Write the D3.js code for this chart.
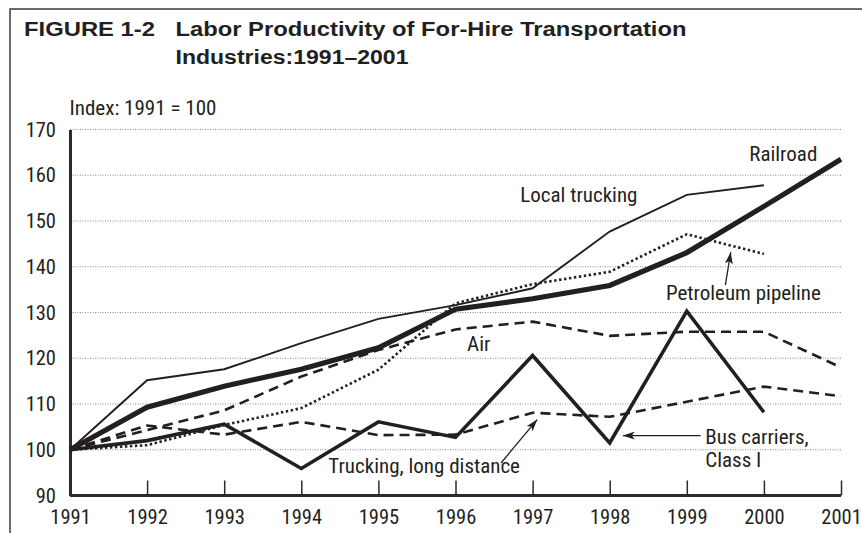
<!DOCTYPE html>
<html lang="en">
<head>
<meta charset="UTF-8">
<title>Labor Productivity of For-Hire Transportation Industries</title>
<script src="https://d3js.org/d3.v7.min.js"></script>
<style>
  body { margin: 0; background: #fff; }
  svg { display: block; }
  .cond { font-family: "Roboto Condensed", "Roboto", sans-serif; fill: #231f20; }
  .title { font-family: "Liberation Sans", Arial, sans-serif; font-weight: bold; fill: #231f20; }
</style>
</head>
<body>
<div id="chart"></div>
<script>
// years and index values (1991 = 100)
var years = [1991, 1992, 1993, 1994, 1995, 1996, 1997, 1998, 1999, 2000, 2001];
var railroad      = [100, 109.3, 113.9, 117.6, 122.3, 130.7, 133.0, 135.9, 143.1, 153.2, 163.5];
var localTrucking = [100, 115.2, 117.6, 123.3, 128.6, 131.6, 135.3, 147.7, 155.7, 157.8];
var pipeline      = [100, 101.0, 105.4, 109.1, 117.5, 132.0, 136.2, 138.9, 147.1, 142.8];
var air           = [100, 104.3, 108.6, 116.0, 121.8, 126.3, 128.0, 124.9, 125.8, 125.8, 118.0];
var truckingLong  = [100, 105.3, 103.3, 106.1, 103.2, 103.3, 108.1, 107.2, 110.5, 113.8, 111.7];
var busCarriers   = [100, 102.0, 105.6, 95.9, 106.1, 102.7, 120.6, 101.5, 130.3, 108.2];
var yTicks = [90, 100, 110, 120, 130, 140, 150, 160, 170];

var W = 862, H = 533;
var ink = "#231f20";

var svg = d3.select("#chart").append("svg").attr("width", W).attr("height", H);

var x = d3.scaleLinear().domain([1991, 2001]).range([70, 841]);
var y = d3.scaleLinear().domain([90, 170]).range([495.5, 129.5]);

// frame (top and left edges only)
svg.append("path")
    .attr("d", "M10," + H + " L10,9 L" + W + ",9")
    .attr("fill", "none").attr("stroke", "#3a3a3a").attr("stroke-width", 1.5);

// title - the printed face is wider than Arial, so stretch to the printed widths
var titleLines = [
    { text: "FIGURE 1-2", x: 24, y: 36, len: 131 },
    { text: "Labor Productivity of For-Hire Transportation", x: 175.5, y: 36, len: 511 },
    { text: "Industries:1991\u20132001", x: 175.5, y: 63.5, len: 233 }
];
svg.append("g").selectAll("text")
    .data(titleLines)
    .join("text")
    .attr("class", "title")
    .attr("x", function(d) { return d.x; })
    .attr("y", function(d) { return d.y; })
    .attr("textLength", function(d) { return d.len; })
    .attr("lengthAdjust", "spacingAndGlyphs")
    .style("font-size", "19.5px")
    .text(function(d) { return d.text; });

svg.append("text").attr("class", "cond").attr("x", 69.5).attr("y", 115)
    .style("font-size", "21px").text("Index: 1991 = 100");

// dotted gridlines
svg.append("g").selectAll("line")
    .data(yTicks.filter(function(d) { return d > 90; }))
    .join("line")
    .attr("x1", x(1991)).attr("x2", x(2001))
    .attr("y1", function(d) { return y(d); }).attr("y2", function(d) { return y(d); })
    .attr("stroke", "#8a8a8a").attr("stroke-width", 1).attr("stroke-dasharray", "1,1.5");

// axes
var yAxis = svg.append("g").attr("transform", "translate(" + x(1991) + ",0)")
    .call(d3.axisLeft(y).tickValues(yTicks).tickSize(0).tickPadding(14));
var xAxis = svg.append("g").attr("transform", "translate(0," + y(90) + ")")
    .call(d3.axisBottom(x).tickValues(years).tickFormat(d3.format("d")).tickSize(-15).tickPadding(14));

[yAxis, xAxis].forEach(function(g) {
    g.attr("font-family", null).attr("font-size", null);
    g.select(".domain").attr("stroke", "#2b2b2b").attr("stroke-width", 3);
    g.selectAll(".tick line").attr("stroke", "#2b2b2b").attr("stroke-width", 1.5);
    g.selectAll("text").attr("class", "cond").attr("fill", ink).style("font-size", "20.5px");
});
xAxis.select(".domain").attr("d", "M" + x(1991) + ",0H" + x(2001));

// series lines
var series = [
    { name: "Air", values: air, width: 2.6, dash: "10,6" },
    { name: "Trucking, long distance", values: truckingLong, width: 2.6, dash: "10,6" },
    { name: "Petroleum pipeline", values: pipeline, width: 2.6, dash: "2.4,2.6" },
    { name: "Local trucking", values: localTrucking, width: 1.9, dash: null },
    { name: "Bus carriers, Class I", values: busCarriers, width: 3.6, dash: null },
    { name: "Railroad", values: railroad, width: 5.2, dash: null }
];

var line = d3.line()
    .x(function(d, i) { return x(years[i]); })
    .y(function(d) { return y(d); });

svg.append("g").selectAll("path")
    .data(series)
    .join("path")
    .attr("d", function(s) { return line(s.values); })
    .attr("fill", "none")
    .attr("stroke", ink)
    .attr("stroke-width", function(s) { return s.width; })
    .attr("stroke-dasharray", function(s) { return s.dash; })
    .attr("stroke-linejoin", "miter")
    .attr("stroke-linecap", "butt");

// labels (positions in data units)
var labels = [
    { text: "Railroad", yr: 1999.81, v: 163.1 },
    { text: "Local trucking", yr: 1996.84, v: 154.2 },
    { text: "Petroleum pipeline", yr: 1998.73, v: 132.7 },
    { text: "Air", yr: 1996.15, v: 121.65 },
    { text: "Trucking, long distance", yr: 1994.35, v: 94.85 },
    { text: "Bus carriers,", yr: 1999.24, v: 101.26 },
    { text: "Class I", yr: 1999.24, v: 96.16 }
];

svg.append("g").selectAll("text")
    .data(labels)
    .join("text")
    .attr("class", "cond")
    .attr("x", function(d) { return x(d.yr); })
    .attr("y", function(d) { return y(d.v); })
    .style("font-size", "21px")
    .text(function(d) { return d.text; });

// pointer arrows
svg.append("defs").append("marker")
    .attr("id", "head")
    .attr("viewBox", "0 0 12 8")
    .attr("refX", 12).attr("refY", 4)
    .attr("markerWidth", 12).attr("markerHeight", 8)
    .attr("markerUnits", "userSpaceOnUse")
    .attr("orient", "auto")
    .append("path")
    .attr("d", "M0,0 L12,4 L0,8 L3,4 Z")
    .attr("fill", ink);

var arrows = [
    { from: [1999.50, 136.0], to: [1999.57, 143.2] },
    { from: [1999.18, 103.1], to: [1998.17, 103.1] },
    { from: [1996.59, 97.1], to: [1997.06, 106.6] }
];

svg.append("g").selectAll("line")
    .data(arrows)
    .join("line")
    .attr("x1", function(d) { return x(d.from[0]); })
    .attr("y1", function(d) { return y(d.from[1]); })
    .attr("x2", function(d) { return x(d.to[0]); })
    .attr("y2", function(d) { return y(d.to[1]); })
    .attr("stroke", ink).attr("stroke-width", 1.3)
    .attr("marker-end", "url(#head)");
</script>
</body>
</html>
